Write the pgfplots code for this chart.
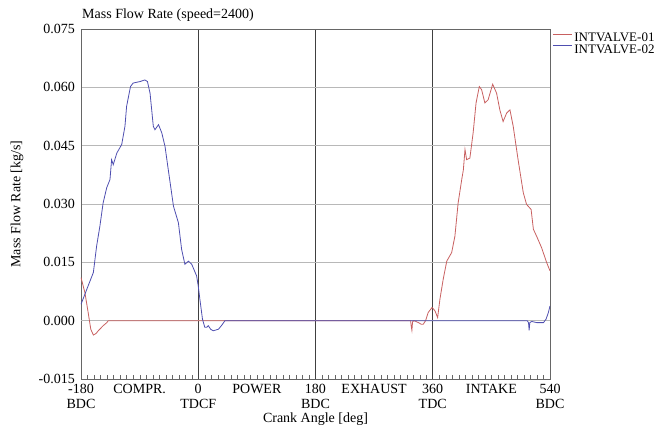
\documentclass[border=0pt]{standalone}
\usepackage{pgfplots}
\pgfplotsset{compat=1.18}
\usepackage{fontspec}
\setmainfont{Liberation Serif}
\definecolor{redc}{RGB}{200,96,96}
\definecolor{bluec}{RGB}{78,78,176}
\begin{document}
\begin{tikzpicture}
\path[use as bounding box] (-81pt,-46pt) rectangle (580pt,379pt);
\begin{axis}[
  at={(0pt,0pt)}, anchor=south west,
  scale only axis, width=469pt, height=350pt,
  xmin=-180, xmax=540, ymin=-0.015, ymax=0.075,
  font=\fontsize{14}{14}\selectfont,
  /pgf/number format/assume math mode=true,
  axis line style={black!60},
  xtick={-180,0,180,360,540},
  xticklabels={{-180\\BDC},{0\\TDCF},{180\\BDC},{360\\TDC},{540\\BDC}},
  xticklabel style={align=center, font=\fontsize{14}{14.5}\selectfont, inner sep=0pt, yshift=-5pt},
  extra x ticks={-90,90,270,450},
  extra x tick labels={COMPR.,POWER,EXHAUST,INTAKE},
  extra x tick style={grid=none, major tick length=0pt},
  minor x tick num=17,
  xtick pos=bottom, ytick pos=left,
  tick align=inside,
  major tick length=0pt, minor tick length=4pt,
  tick style={black!60},
  ytick={-0.015,0,0.015,0.030,0.045,0.060,0.075},
  scaled y ticks=false,
  yticklabel style={/pgf/number format/.cd, fixed, fixed zerofill, precision=3, /tikz/.cd, inner sep=0pt, xshift=-6pt},
  grid=major,
  x grid style={black!75, line width=0.6pt},
  y grid style={black!28, line width=0.6pt},
  extra y ticks={0}, extra y tick labels={},
  extra y tick style={grid=major, major grid style={black!70, line width=0.6pt}},
  title={Mass Flow Rate (speed=2400)},
  title style={at={(0,1)}, anchor=south west, inner sep=1pt, font=\fontsize{14}{14}\selectfont},
  xlabel={Crank Angle [deg]},
  ylabel={Mass Flow Rate [kg/s]},
  xlabel style={inner sep=0pt, yshift=-4pt},
  ylabel style={inner sep=1pt},
  ylabel shift=14pt,
  legend style={at={(1.005,0.99)}, anchor=north west, draw=none, fill=none,
    font=\fontsize{13}{13}\selectfont, inner sep=0pt, row sep=2pt,
    nodes={inner ysep=0.5pt, inner xsep=2pt, text height=8.8pt, text depth=0pt}},
  legend cell align=left,
  legend image code/.code={\draw[#1] (0pt,3.5pt) -- (19pt,3.5pt);},
]
\addplot[redc, line width=0.8pt] coordinates {
(-180,0.0111) (-174,0.0072) (-169,0.0021) (-165,-0.0022) (-161,-0.0037) (-157,-0.0033) (-153.5,-0.0026) (-146,-0.0013) (-141,-0.0006) (-138,0)
(326,0) (327,-0.0015) (328,-0.0025) (329,-0.0003) (331,0) (334,-0.0002) (338,-0.0005) (342,-0.0009) (345.5,-0.0009) (349,0) (353,0.0021) (359,0.0034) (363.5,0.0025) (367.5,0.0008)
(371,0.0055) (376,0.0106) (381.5,0.0153) (389,0.0175) (394,0.0217) (399,0.0303) (404.5,0.0363) (407,0.0388) (409.5,0.0440) (412,0.0414) (417,0.0418) (422,0.0483) (426.5,0.0560) (431.5,0.0602) (435,0.0594) (440,0.0560) (445,0.0568) (452,0.0608) (458,0.0585) (463,0.0542) (468,0.0512) (473.5,0.0534) (478.5,0.0542) (483.5,0.0500) (491,0.0414) (499,0.0329) (504,0.0299) (511,0.0286) (514.5,0.0235) (519.5,0.0217) (527,0.0188) (535,0.0149) (540,0.0128)
};
\addlegendentry{INTVALVE-01}
\addplot[bluec, line width=0.8pt] coordinates {
(-180,0.0042) (-171,0.0081) (-161,0.0124) (-156,0.0192) (-151,0.0243) (-146,0.0303) (-140.5,0.0342) (-135.5,0.0363) (-133,0.0414) (-130.5,0.0401) (-125,0.0431) (-117.5,0.0453) (-112.5,0.0500) (-110,0.0551) (-104,0.0602) (-100,0.0611) (-89,0.0615) (-82,0.0619) (-78,0.0615) (-74,0.0585) (-69,0.0500) (-66.5,0.0491) (-61,0.0504) (-56,0.0483) (-51,0.0448) (-46,0.0388) (-38,0.0294) (-30.5,0.0252) (-25.5,0.0183) (-20.5,0.0145) (-15,0.0153) (-10,0.0145) (-2.5,0.0115) (0,0.0089) (2.5,0.0055) (6.5,0.0004) (10,-0.0017) (13,-0.0017) (15.5,-0.0013) (19,-0.0022) (23,-0.0026) (31,-0.0022) (36,-0.0012) (41,0)
(505,0) (507,-0.0005) (508,-0.0025) (509,-0.0005) (512,-0.0002) (519.5,-0.0005) (530,-0.0005) (534,0.0004) (537.5,0.0021) (540,0.0038)
};
\addlegendentry{INTVALVE-02}
\end{axis}
\end{tikzpicture}
\end{document}
